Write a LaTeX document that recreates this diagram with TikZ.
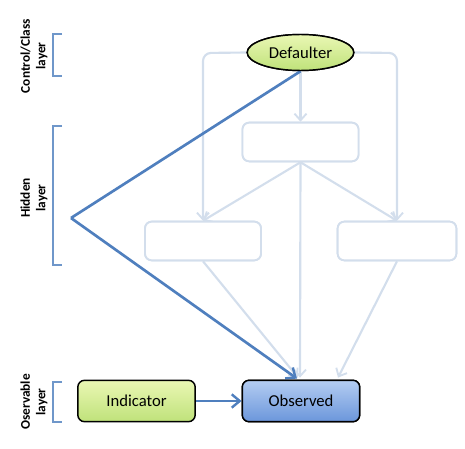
\documentclass[tikz,border=0pt]{standalone}
\usepackage{fontspec}
\setmainfont{Carlito}
\usetikzlibrary{arrows.meta,shapes.geometric,calc}
\definecolor{faint}{HTML}{D3DEEC}
\definecolor{darkblue}{HTML}{4F7FBE}
\definecolor{brk}{HTML}{6F97CA}
\definecolor{gtop}{HTML}{EAF7B4}
\definecolor{gbot}{HTML}{BFE27A}
\definecolor{btop}{HTML}{B4CDF2}
\definecolor{bbot}{HTML}{6B96DB}
\tikzset{
  faintline/.style={draw=faint, line width=1.6pt},
  faintarrow/.style={faintline, -{Straight Barb[length=5pt,width=9pt,line width=1.4pt]}},
  strongline/.style={draw=darkblue, line width=2pt},
  strongarrow/.style={strongline, -{Straight Barb[length=6pt,width=10pt,line width=1.8pt]}},
  hiddenbox/.style={draw=faint, line width=1.4pt, fill=white, rounded corners=5pt, minimum width=87pt, minimum height=29pt},
  layerbox/.style={draw=black, line width=1.1pt, rounded corners=5pt, minimum width=88pt, minimum height=31pt, font=\fontsize{12.5}{15}\selectfont},
  defstyle/.style={ellipse, draw=black, line width=1.1pt, top color=gtop, bottom color=gbot, minimum width=80pt, minimum height=27pt, inner sep=0pt, font=\fontsize{12.5}{15}\selectfont},
  bracket/.style={draw=brk, line width=2pt},
  layertext/.style={rotate=90, font=\bfseries\fontsize{10}{11.5}\selectfont, align=center, inner sep=0pt},
}
\begin{document}
\begin{tikzpicture}[x=0.75pt,y=-0.75pt]
\useasboundingbox (0,0) rectangle (465,449);
% nodes
\node[hiddenbox] (top) at (300.5,142) {};
\node[hiddenbox] (hl) at (203,241) {};
\node[hiddenbox, minimum width=89pt] (hr) at (397,241) {};
\node[layerbox, top color=gtop, bottom color=gbot] (ind) at (136.5,401) {Indicator};
\node[layerbox, top color=btop, bottom color=bbot] (obs) at (301,401) {Observed};
\node[defstyle] (def) at (300.5,52.5) {Defaulter};
\coordinate (v) at (71,218);
\coordinate (tl) at (hl.north);
\coordinate (tr) at (hr.north);
% faint connectors
\draw[faintarrow, rounded corners=6pt] (def.west) -- (203,53) -- (tl);
\draw[faintarrow, rounded corners=6pt] (def.east) -- (397,53) -- (tr);
\draw[faintarrow] (def.south) -- (top.north);
\draw[faintarrow] (top.south) -- (tl);
\draw[faintarrow] (top.south) -- (tr);
\draw[faintarrow] (top.south) -- ($(obs.north)+(-1,-2)$);
\draw[faintarrow] (hl.south) -- ($(obs.north)+(-3,-2)$);
\draw[faintarrow] (hr.south) -- ($(obs.north)+(37,-2)$);
% redraw hidden boxes over the lines
\node[hiddenbox] at (top) {};
\node[hiddenbox] at (hl) {};
\node[hiddenbox, minimum width=89pt] at (hr) {};
% strong connectors
\draw[strongline] (def.south) -- (v);
\draw[strongarrow] (v) -- ($(obs.north)+(-4,-1)$);
\draw[strongarrow] (ind.east) -- (obs.west);
\node[layerbox, top color=btop, bottom color=bbot] at (obs) {Observed};
\node[defstyle] at (def) {Defaulter};
% brackets
\draw[bracket] (62,34) -- (53,34) -- (53,76) -- (62,76);
\draw[bracket] (62,126) -- (53,126) -- (53,265) -- (62,265);
\draw[bracket] (62,382) -- (53,382) -- (53,422) -- (62,422);
% layer labels
\node[layertext] (l1) at (34,56) {Control/Class\\layer};
\node[layertext] (l2) at (34,198) {Hidden\\layer};
\node[layertext] (l3) at (34,402) {Oservable\\layer};
\end{tikzpicture}
\end{document}
